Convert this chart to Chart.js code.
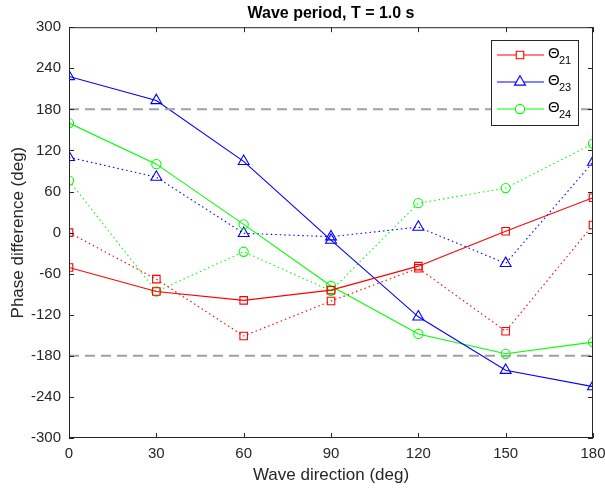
<!DOCTYPE html>
<html>
<head>
<meta charset="utf-8">
<script src="https://cdn.jsdelivr.net/npm/chart.js@4"></script>
<style>
  html, body { margin: 0; padding: 0; background: #fff; }
  #wrap { width: 605px; height: 494px; }
</style>
</head>
<body>
<div id="wrap"><canvas id="myChart" width="605" height="494"></canvas></div>
<script>
// wave directions (deg)
var directions = [0, 30, 60, 90, 120, 150, 180];
// phase differences (deg), solid and dotted series
var theta21Solid = [-51, -86, -99, -84, -49, 2, 51];
var theta21Dotted = [0, -68, -151, -100, -52, -144, 11];
var theta23Solid = [228, 193, 104, -11, -123, -201, -225];
var theta23Dotted = [110, 81, -1, -6, 8, -45, 103];
var theta24Solid = [160, 100, 12, -78, -148, -177, -160];
var theta24Dotted = [76, -86, -28, -85, 43, 65, 130];
var limitLines = [180, -180];
var legendNames = ['21', '23', '24'];

var FONT = '"Liberation Sans", Arial, Helvetica, sans-serif';
var AXIS = '#262626';

function pts(values) {
    var out = [];
    for (var i = 0; i < directions.length; i++) {
        out.push({ x: directions[i], y: values[i] });
    }
    return out;
}

function serie(values, color, style, radius, dotted) {
    return {
        data: pts(values),
        borderColor: color,
        backgroundColor: 'rgba(0,0,0,0)',
        borderWidth: 1.1,
        borderDash: dotted ? [1.5, 3] : [],
        pointStyle: style,
        pointRadius: radius,
        pointHoverRadius: radius,
        pointBorderColor: color,
        pointBackgroundColor: 'rgba(0,0,0,0)',
        pointBorderWidth: 1.1,
        tension: 0
    };
}

var datasets = [
    serie(theta21Solid, '#ff0000', 'rect', 5.3, false),
    serie(theta23Solid, '#0000ff', 'triangle', 6.3, false),
    serie(theta24Solid, '#00ff00', 'circle', 4.6, false),
    serie(theta21Dotted, '#ff0000', 'rect', 5.3, true),
    serie(theta23Dotted, '#0000ff', 'triangle', 6.3, true),
    serie(theta24Dotted, '#00ff00', 'circle', 4.6, true)
];
for (var k = 0; k < limitLines.length; k++) {
    datasets.unshift({
        data: [{ x: directions[0], y: limitLines[k] }, { x: directions[directions.length - 1], y: limitLines[k] }],
        borderColor: '#a0a0a0',
        borderWidth: 2,
        borderDash: [10, 6],
        pointRadius: 0,
        isLimit: true
    });
}

// box, inward ticks and legend like matlab
var matlabBox = {
    id: 'matlabBox',
    afterDraw: function (chart) {
        var ctx = chart.ctx;
        var a = chart.chartArea;
        var xs = chart.scales.x, ys = chart.scales.y;
        ctx.save();
        ctx.strokeStyle = AXIS;
        ctx.lineWidth = 1;
        ctx.strokeRect(a.left + 0.5, a.top + 0.5, a.right - a.left - 1, a.bottom - a.top - 1);
        ctx.beginPath();
        xs.ticks.forEach(function (t) {
            var px = Math.round(xs.getPixelForValue(t.value)) + 0.5;
            ctx.moveTo(px, a.bottom); ctx.lineTo(px, a.bottom - 5);
            ctx.moveTo(px, a.top); ctx.lineTo(px, a.top + 5);
        });
        ys.ticks.forEach(function (t) {
            var py = Math.round(ys.getPixelForValue(t.value)) + 0.5;
            ctx.moveTo(a.left, py); ctx.lineTo(a.left + 5, py);
            ctx.moveTo(a.right, py); ctx.lineTo(a.right - 5, py);
        });
        ctx.stroke();

        // legend
        var lx = 491, ly = 40, lw = 87, lh = 85;
        ctx.fillStyle = '#fff';
        ctx.fillRect(lx, ly, lw, lh);
        ctx.strokeStyle = AXIS;
        ctx.strokeRect(lx + 0.5, ly + 0.5, lw, lh);
        var solids = chart.data.datasets.filter(function (d) { return !d.isLimit; }).slice(0, 3);
        solids.forEach(function (d, i) {
            var cy = ly + 15 + i * 27;
            ctx.strokeStyle = d.borderColor;
            ctx.lineWidth = 1.1;
            ctx.setLineDash([]);
            ctx.beginPath();
            ctx.moveTo(lx + 6, cy); ctx.lineTo(lx + 53, cy);
            ctx.stroke();
            ctx.fillStyle = '#fff';
            Chart.helpers.drawPoint(ctx, {
                pointStyle: d.pointStyle, radius: d.pointRadius, borderWidth: 1.1
            }, lx + 29, cy);
            ctx.fillStyle = '#000';
            ctx.textBaseline = 'middle';
            ctx.textAlign = 'left';
            ctx.font = '15px ' + FONT;
            ctx.fillText('\u0398', lx + 57, cy - 1);
            ctx.font = '11px ' + FONT;
            ctx.fillText(legendNames[i], lx + 68, cy + 6);
        });
        ctx.restore();
    }
};

var ctx = document.getElementById('myChart');
var myChart = new Chart(ctx, {
    type: 'line',
    data: { datasets: datasets },
    plugins: [matlabBox],
    options: {
        responsive: false,
        animation: false,
        devicePixelRatio: 1,
        layout: { padding: { left: 0, right: 12, top: 0, bottom: 0 } },
        plugins: {
            legend: { display: false },
            tooltip: { enabled: false },
            title: {
                display: true,
                text: 'Wave period, T = 1.0 s',
                fullSize: false,
                color: '#000',
                font: { family: FONT, size: 16, weight: 'bold' },
                padding: { top: 4, bottom: 4 }
            }
        },
        scales: {
            x: {
                type: 'linear',
                min: 0,
                max: 180,
                afterFit: function (s) { s.height = 56; s.paddingLeft = 0; s.paddingRight = 0; },
                ticks: { stepSize: 30, color: AXIS, padding: 7, font: { family: FONT, size: 15 } },
                grid: { display: true, drawOnChartArea: false, drawTicks: false },
                border: { display: false },
                title: {
                    display: true, text: 'Wave direction (deg)', color: AXIS,
                    font: { family: FONT, size: 17 }, padding: { top: 0, bottom: 8 }
                }
            },
            y: {
                min: -300,
                max: 300,
                afterFit: function (s) { s.width = 69; s.paddingTop = 0; s.paddingBottom = 0; },
                ticks: { stepSize: 60, color: AXIS, padding: 8, font: { family: FONT, size: 15 } },
                grid: { display: true, drawOnChartArea: false, drawTicks: false },
                border: { display: false },
                title: {
                    display: true, text: 'Phase difference (deg)', color: AXIS,
                    font: { family: FONT, size: 17 }, padding: { top: 8, bottom: 0 }
                }
            }
        }
    }
});
</script>
</body>
</html>
